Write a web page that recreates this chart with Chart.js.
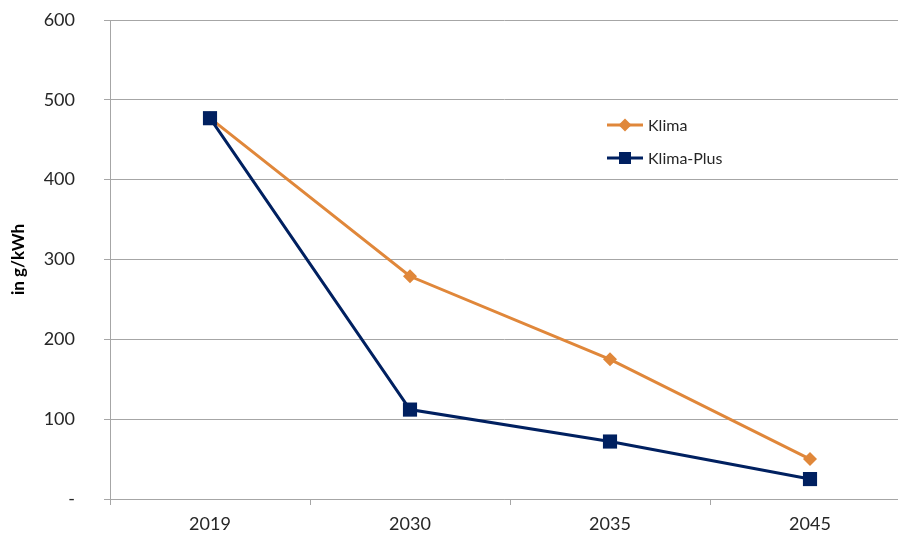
<!DOCTYPE html>
<html><head><meta charset="utf-8">
<script src="https://cdn.jsdelivr.net/npm/chart.js@4/dist/chart.umd.min.js"></script>
<style>html,body{margin:0;padding:0;overflow:hidden;background:#fff}</style>
</head><body><canvas id="c" width="898" height="538"></canvas>
<script>
const categories = ['2019', '2030', '2035', '2045'];
const klima = [477, 279, 175, 50];
const klimaPlus = [477, 112, 72, 25];
const yTicks = [0, 100, 200, 300, 400, 500, 600];
const FONT = 'Lato, "Noto Sans", sans-serif';
const ORANGE = '#E0873A', NAVY = '#002060', GRID = '#A6A6A6';

const legendPlugin = {
  id: 'inLegend',
  afterDraw(chart) {
    const ctx = chart.ctx;
    const items = chart.data.datasets;
    const x0 = 607, y0 = 125, gap = 33;
    items.forEach((ds, i) => {
      const y = y0 + i * gap;
      ctx.save();
      ctx.strokeStyle = ds.borderColor; ctx.lineWidth = 3;
      ctx.beginPath(); ctx.moveTo(x0, y); ctx.lineTo(x0 + 36, y); ctx.stroke();
      ctx.fillStyle = ds.pointBackgroundColor;
      const cx = x0 + 18;
      if (ds.pointStyle === 'rectRot') {
        ctx.beginPath(); ctx.moveTo(cx, y - 6.5); ctx.lineTo(cx + 6.5, y); ctx.lineTo(cx, y + 6.5); ctx.lineTo(cx - 6.5, y); ctx.closePath(); ctx.fill();
      } else {
        ctx.fillRect(cx - 6, y - 6, 12, 12);
      }
      ctx.fillStyle = '#262626'; ctx.font = '16px ' + FONT; ctx.textBaseline = 'middle'; ctx.textAlign = 'left';
      ctx.fillText(ds.label, x0 + 41, y + 1);
      ctx.restore();
    });
  }
};

new Chart(document.getElementById('c'), {
  type: 'line',
  data: {
    labels: categories,
    datasets: [
      { label: 'Klima', data: klima, order: 1, borderColor: ORANGE, backgroundColor: ORANGE, pointBackgroundColor: ORANGE, pointBorderColor: ORANGE,
        borderWidth: 3, pointStyle: 'rectRot', pointRadius: 7, pointBorderWidth: 0, tension: 0 },
      { label: 'Klima-Plus', data: klimaPlus, order: 0, borderColor: NAVY, backgroundColor: NAVY, pointBackgroundColor: NAVY, pointBorderColor: NAVY,
        borderWidth: 3, pointStyle: 'rect', pointRadius: 10, pointBorderWidth: 0, tension: 0 }
    ]
  },
  options: {
    responsive: false, animation: false,
    layout: { autoPadding: false, padding: { top: 20, right: 0, left: 0, bottom: 0 } },
    plugins: { legend: { display: false }, tooltip: { enabled: false } },
    scales: {
      x: {
        offset: true,
        grid: { display: true, drawOnChartArea: false, drawTicks: true, tickLength: 6, color: GRID, offset: true },
        border: { color: GRID, width: 1 },
        ticks: { font: { family: FONT, size: 18 }, color: '#262626', padding: 8, maxRotation: 0 },
        afterBuildTicks(s) { s._startValue = -0.5; s._valueRange = 3.94; },
        afterFit(s) { s.height = 39; s.paddingLeft = 0; s.paddingRight = 0; }
      },
      y: {
        min: 0, max: 600,
        afterBuildTicks(s) { s.ticks = yTicks.map(v => ({ value: v })); },
        grid: { color: GRID, tickLength: 6, lineWidth: 1 },
        border: { color: GRID, width: 1 },
        ticks: { font: { family: FONT, size: 18 }, color: '#262626', padding: 29,
          callback: v => v === 0 ? '-' : String(v) },
        title: { display: true, text: 'in g/kWh', font: { family: FONT, size: 17, weight: 'bold' }, color: '#000', padding: { top: 8, bottom: 0 } },
        afterFit(s) { s.width = 110; s.paddingTop = 0; s.paddingBottom = 0; }
      }
    }
  },
  plugins: [legendPlugin]
});
</script></body></html>
